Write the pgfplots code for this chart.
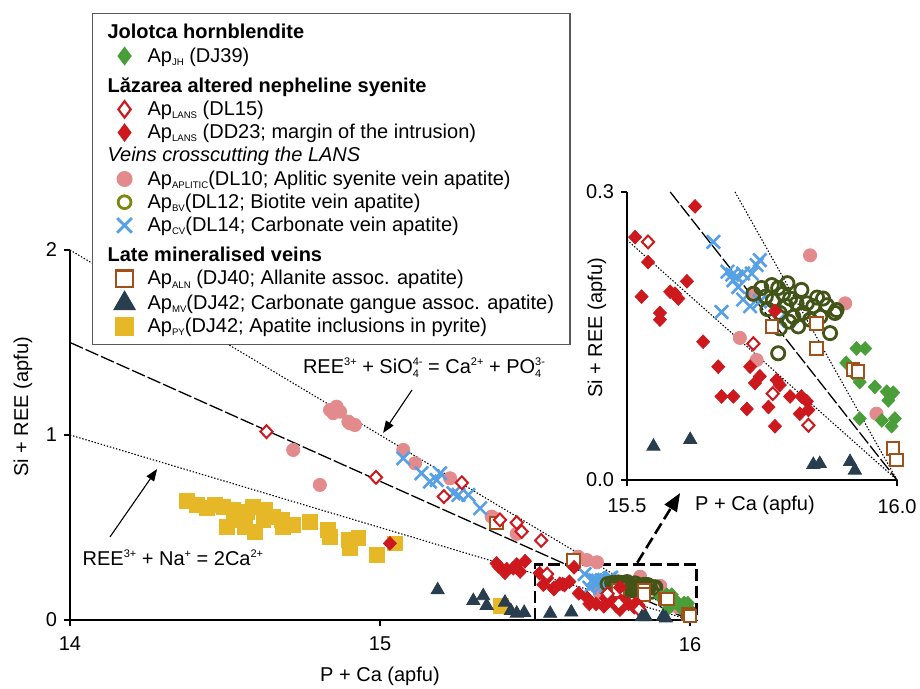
\documentclass[border=0pt]{standalone}
\usepackage{fontspec}
\setmainfont{Liberation Sans}
\usepackage{pgfplots}
\pgfplotsset{compat=1.18}
\usepackage{pgfplotstable}
\usetikzlibrary{arrows.meta}

\definecolor{cJH}{RGB}{74,158,58}
\definecolor{cLANS}{RGB}{205,24,30}
\definecolor{cAPL}{RGB}{227,139,140}
\definecolor{cBV}{RGB}{66,84,24}
\definecolor{cCV}{RGB}{86,160,230}
\definecolor{cALN}{RGB}{160,80,25}
\definecolor{cMV}{RGB}{40,62,78}
\definecolor{cPY}{RGB}{230,184,40}

% tiny subscripts / superscripts
\newcommand{\sub}[1]{\raisebox{-1.6pt}{\fontsize{4.8}{5}\selectfont #1}}
\newcommand{\esub}[1]{\raisebox{-2pt}{\fontsize{5.5}{6}\selectfont #1}}
\newcommand{\esup}[1]{\raisebox{4pt}{\fontsize{5.5}{6}\selectfont #1}}
\newcommand{\ls}{\rule[-3.2pt]{0pt}{11.5pt}}
\newcommand{\lh}{\rule[-3.2pt]{0pt}{15pt}}

% Jolotca hornblendite
\pgfplotstableread{
x y
15.925 0.137
15.941 0.137
15.906 0.122
15.919 0.111
15.931 0.102
15.959 0.097
15.981 0.092
15.993 0.091
15.984 0.083
15.972 0.062
15.996 0.064
15.990 0.056
15.931 0.064
}\tJH

% DL15 (open diamonds)
\pgfplotstableread{
x y
14.634 1.018
14.987 0.771
15.264 0.742
15.206 0.667
15.387 0.541
15.441 0.526
15.457 0.478
15.520 0.430
15.539 0.248
15.734 0.142
15.770 0.090
15.836 0.057
}\tDLF

% DD23 (filled diamonds)
\pgfplotstableread{
x y
15.032 0.414
15.376 0.306
15.382 0.290
15.403 0.255
15.409 0.275
15.441 0.300
15.452 0.262
15.468 0.318
15.430 0.280
15.626 0.285
15.515 0.253
15.539 0.227
15.527 0.191
15.561 0.174
15.561 0.167
15.580 0.196
15.589 0.194
15.595 0.189
15.611 0.207
15.641 0.144
15.669 0.118
15.675 0.087
15.697 0.087
15.722 0.074
15.728 0.118
15.746 0.108
15.737 0.101
15.777 0.104
15.783 0.099
15.762 0.076
15.802 0.087
15.823 0.087
15.833 0.082
15.820 0.069
15.836 0.073
15.774 0.056
15.774 0.176
}\tDD

% DL10 aplitic
\pgfplotstableread{
x y
14.839 1.135
14.860 1.153
14.849 1.118
14.871 1.126
14.898 1.072
14.919 1.054
14.903 1.063
14.720 0.919
14.806 0.730
15.075 0.919
15.113 0.847
15.226 0.766
15.360 0.559
15.376 0.545
15.441 0.466
15.639 0.342
15.667 0.324
15.700 0.312
15.839 0.234
15.904 0.184
15.734 0.193
15.709 0.148
15.740 0.125
15.962 0.069
}\tAPL

% DL12 biotite vein
\pgfplotstableread{
x y
15.734 0.194
15.749 0.200
15.768 0.203
15.780 0.200
15.757 0.191
15.789 0.194
15.802 0.189
15.814 0.184
15.823 0.198
15.795 0.181
15.783 0.174
15.808 0.170
15.833 0.184
15.845 0.181
15.863 0.189
15.870 0.182
15.885 0.174
15.888 0.177
15.783 0.158
15.817 0.160
15.780 0.132
15.876 0.153
15.839 0.167
15.760 0.178
15.797 0.205
15.826 0.174
15.852 0.190
15.800 0.165
15.770 0.187
15.858 0.170
}\tBV

% DL14 carbonate vein
\pgfplotstableread{
x y
15.075 0.874
15.134 0.793
15.161 0.748
15.194 0.793
15.183 0.757
15.237 0.685
15.253 0.676
15.285 0.676
15.323 0.604
15.624 0.324
15.660 0.248
15.746 0.229
15.686 0.217
15.695 0.214
15.703 0.212
15.715 0.215
15.731 0.215
15.706 0.201
15.715 0.188
15.728 0.181
15.746 0.186
15.675 0.175
15.780 0.166
15.740 0.224
15.697 0.208
}\tCV

% DJ40 allanite
\pgfplotstableread{
x y
15.376 0.523
15.624 0.324
15.851 0.163
15.768 0.160
15.851 0.137
15.919 0.115
15.928 0.113
15.993 0.033
15.999 0.021
}\tALN

% DJ42 carbonate gangue
\pgfplotstableread{
x y
15.186 0.162
15.301 0.104
15.333 0.130
15.344 0.078
15.403 0.095
15.422 0.050
15.441 0.036
15.465 0.040
15.549 0.035
15.617 0.042
15.845 0.016
15.857 0.017
15.913 0.019
15.922 0.010
}\tMV

% DJ42 inclusions in pyrite
\pgfplotstableread{
x y
14.376 0.645
14.409 0.622
14.441 0.604
14.468 0.622
14.495 0.613
14.527 0.595
14.527 0.541
14.505 0.505
14.548 0.568
14.570 0.586
14.591 0.613
14.629 0.595
14.624 0.541
14.565 0.505
14.597 0.478
14.656 0.559
14.683 0.541
14.688 0.505
14.720 0.514
14.774 0.532
14.833 0.486
14.839 0.450
14.898 0.432
14.903 0.388
14.930 0.442
14.989 0.351
15.048 0.414
15.390 0.077
}\tPY

\pgfplotsset{
  sJH/.style={only marks, mark=diamond*, mark size=3.4pt, color=cJH, mark options={xscale=1.27}},
  sDLF/.style={only marks, mark=diamond*, mark size=3.2pt, color=cLANS, mark options={xscale=1.27, fill=white, line width=1pt}},
  sDD/.style={only marks, mark=diamond*, mark size=3.4pt, color=cLANS, mark options={xscale=1.27}},
  sAPL/.style={only marks, mark=*, mark size=3.3pt, color=cAPL},
  sBV/.style={only marks, mark=o, mark size=3.3pt, color=cBV, mark options={line width=1.4pt}},
  sCV/.style={only marks, mark=x, mark size=4.7pt, color=cCV, mark options={line width=1.3pt}},
  sALN/.style={only marks, mark=square*, mark size=3.1pt, color=cALN, mark options={fill=white, line width=1pt}},
  sMV/.style={only marks, mark=triangle*, mark size=3.8pt, color=cMV},
  sPY/.style={only marks, mark=square*, mark size=3.7pt, color=cPY},
  lDot/.style={black, line width=0.55pt, dash pattern=on 0.7pt off 0.9pt},
  lDash/.style={black, line width=0.65pt, dash pattern=on 7pt off 1.5pt},
}

\begin{document}
\begin{tikzpicture}
\begin{axis}[
    at={(0,0)}, anchor=south west,
    x=155pt, y=92.5pt,
    xmin=14, xmax=16.02, ymin=0, ymax=2,
    axis lines=left,
    axis line style={-, line width=0.6pt},
    tick style={black, line width=0.6pt},
    tick align=outside, major tick length=3pt,
    xtick={14,15,16}, ytick={0,1,2},
    tick label style={font=\fontsize{10}{12}\selectfont},
    xticklabel style={yshift=-2pt},
    /pgf/number format/assume math mode=true,
    xlabel={P + Ca (apfu)},
    ylabel={Si + REE (apfu)},
    label style={font=\fontsize{10}{12}\selectfont},
    xlabel style={at={(axis description cs:0.495,-0.151)}, anchor=center},
    ylabel style={at={(axis description cs:-0.075,0.576)}, anchor=center},
    clip=false,
    legend style={at={(axis description cs:0.0351,1.6405)}, anchor=north west,
      draw=black!65, line width=0.6pt, fill=white,
      inner xsep=8pt, inner ysep=4.3pt, row sep=1.8pt, column sep=3.5pt,
      font=\fontsize{10}{12}\selectfont,
      nodes={inner sep=0pt}, cells={anchor=base west}},
    legend image code/.code={\path[draw=none, fill=none] (-8pt,0pt) rectangle (8pt,6pt); \draw[#1] plot coordinates {(0pt,3pt)};},
]
% legend
\addlegendimage{empty legend}
\addlegendentry{\hspace{-20pt}\textbf{Jolotca hornblendite}\ls}
\addlegendimage{only marks, mark=diamond*, color=cJH, mark size=4.3pt}
\addlegendentry{Ap\sub{JH} (DJ39)\ls}
\addlegendimage{empty legend}
\addlegendentry{\hspace{-20pt}\textbf{Lăzarea altered nepheline syenite}\lh}
\addlegendimage{only marks, mark=diamond*, color=cLANS, mark size=4.1pt, mark options={fill=white, line width=1.1pt}}
\addlegendentry{Ap\sub{LANS} (DL15)\ls}
\addlegendimage{only marks, mark=diamond*, color=cLANS, mark size=4.2pt}
\addlegendentry{Ap\sub{LANS} (DD23; margin of the intrusion)\ls}
\addlegendimage{empty legend}
\addlegendentry{\hspace{-20pt}\textit{Veins crosscutting the LANS}\ls}
\addlegendimage{only marks, mark=*, color=cAPL, mark size=3.7pt}
\addlegendentry{Ap\sub{APLITIC}(DL10; Aplitic syenite vein apatite)\ls}
\addlegendimage{only marks, mark=o, color=cBV!70!yellow, mark size=3.2pt, mark options={line width=1.4pt}}
\addlegendentry{Ap\sub{BV}(DL12; Biotite vein apatite)\ls}
\addlegendimage{only marks, mark=x, color=cCV, mark size=5.2pt, mark options={line width=1.4pt}}
\addlegendentry{Ap\sub{CV}(DL14; Carbonate vein apatite)\ls}
\addlegendimage{empty legend}
\addlegendentry{\hspace{-20pt}\textbf{Late mineralised veins}\lh}
\addlegendimage{only marks, mark=square*, color=cALN, mark size=4.2pt, mark options={fill=white, line width=1.2pt}}
\addlegendentry{Ap\sub{ALN} (DJ40; Allanite assoc. apatite)\ls}
\addlegendimage{only marks, mark=triangle*, color=cMV, mark size=6pt}
\addlegendentry{Ap\sub{MV}(DJ42; Carbonate gangue assoc. apatite)\ls}
\addlegendimage{only marks, mark=square*, color=cPY, mark size=4.5pt}
\addlegendentry{Ap\sub{PY}(DJ42; Apatite inclusions in pyrite)\ls}

% substitution lines
\addplot[lDot, forget plot] coordinates {(14,2) (16,0)};
\addplot[lDash, forget plot] coordinates {(14,1.5) (16,0)};
\addplot[lDot, forget plot] coordinates {(14,1) (16,0)};

% data
\addplot[sPY, forget plot] table {\tPY};
\addplot[sAPL, forget plot] table {\tAPL};
\addplot[sCV, forget plot] table {\tCV};
\addplot[sBV, forget plot] table {\tBV};
\addplot[sJH, forget plot] table {\tJH};
\addplot[sALN, forget plot] table {\tALN};
\addplot[sDD, forget plot] table {\tDD};
\addplot[sDLF, forget plot] table {\tDLF};
\addplot[sMV, forget plot] table {\tMV};

% annotations
\node[font=\fontsize{10}{12}\selectfont] at (axis cs:15.142,1.362)
  {REE\esup{3+} + SiO\rlap{\esub{4}}\esup{4-} = Ca\esup{2+} + PO\rlap{\esub{4}}\esup{3-}};
\draw[line width=0.55pt, -{Triangle[length=6pt,width=4.5pt]}] (axis cs:15.103,1.243) -- (axis cs:15.010,1.011);
\node[font=\fontsize{10}{12}\selectfont] at (axis cs:14.332,0.335)
  {REE\esup{3+} + Na\esup{+} = 2Ca\esup{2+}};
\draw[line width=0.55pt, -{Triangle[length=6pt,width=4.5pt]}] (axis cs:14.129,0.449) -- (axis cs:14.281,0.816);
\draw[line width=1.3pt, dash pattern=on 6pt off 2.5pt] (axis cs:15.5,0) rectangle (axis cs:16.02,0.3);
\draw[line width=1.3pt, dash pattern=on 6pt off 2.5pt, -{Triangle[length=9pt,width=7pt]}] (axis cs:15.83,0.31) -- (axis cs:15.968,0.686);
\end{axis}

% inset
\begin{axis}[
    at={(278.5pt,70pt)}, anchor=south west,
    x=270pt, y=480pt,
    xmin=15.5, xmax=16, ymin=0, ymax=0.3,
    axis lines=left,
    axis line style={-, line width=0.6pt},
    tick style={black, line width=0.6pt},
    tick align=outside, major tick length=3pt,
    xtick={15.5,16}, ytick={0,0.3},
    xticklabel style={yshift=-3pt, /pgf/number format/.cd, fixed, fixed zerofill, precision=1},
    yticklabel style={/pgf/number format/.cd, fixed, fixed zerofill, precision=1},
    tick label style={font=\fontsize{10}{12}\selectfont},
    /pgf/number format/assume math mode=true,
    xlabel={P + Ca (apfu)},
    ylabel={Si + REE (apfu)},
    label style={font=\fontsize{10}{12}\selectfont},
    xlabel style={at={(axis description cs:0.474,-0.0868)}, anchor=center},
    ylabel style={at={(axis description cs:-0.111,0.528)}, anchor=center},
    clip=false,
    restrict x to domain=15.49:16.05,
    restrict y to domain=-0.01:0.30,
]
\addplot[lDot] coordinates {(15.7,0.3) (16,0)};
\addplot[lDash] coordinates {(15.58,0.3) (16,0)};
\addplot[lDot] coordinates {(15.5,0.25) (16,0)};

\addplot[sPY] table {\tPY};
\addplot[sAPL] table {\tAPL};
\addplot[sCV] table {\tCV};
\addplot[sBV] table {\tBV};
\addplot[sJH] table {\tJH};
\addplot[sALN] table {\tALN};
\addplot[sDD] table {\tDD};
\addplot[sDLF] table {\tDLF};
\addplot[sMV] table {\tMV};
\end{axis}
\pgfresetboundingbox
\path (-35pt,-34.5pt) rectangle (425pt,310pt);
\end{tikzpicture}
\end{document}
